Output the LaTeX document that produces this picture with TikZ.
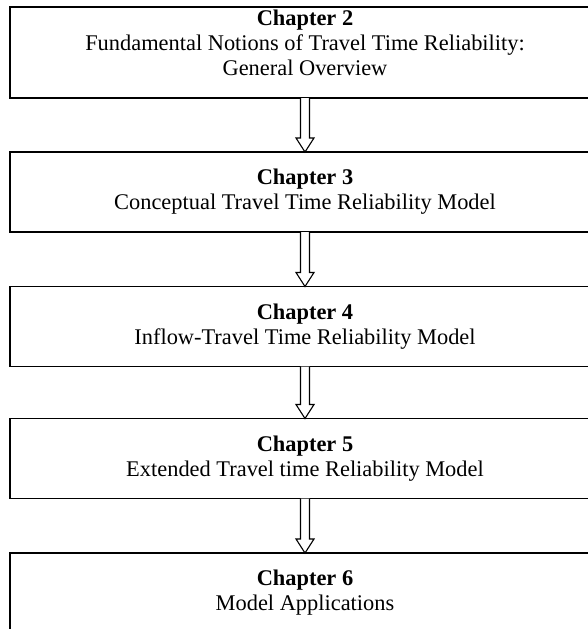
\documentclass[tikz,border=0pt]{standalone}
\usepackage{fontspec}
\setmainfont{Liberation Serif}
\usetikzlibrary{calc}
\begin{document}
\begin{tikzpicture}[x=1pt,y=1pt,
  chapterbox/.style={draw, line width=1.4pt, minimum width=590pt, minimum height=80pt,
    align=center, inner sep=0pt, outer sep=0pt, font=\fontsize{22.4}{25}\selectfont},
  chaptertext/.style={align=center, inner sep=0pt, font=\fontsize{22.4}{25}\selectfont},
  flowarrow/.style={draw, line width=1.1pt, fill=white, line join=miter}]
% page area; the boxes run past its right and bottom edges
\clip (0,0) rectangle (588,-629);

% chapter boxes
\node[chapterbox, minimum height=91pt] (c2) at (305,-52.5) {};
\node[chaptertext] (c2text) at ($(c2.center)+(0,10)$)
  {\textbf{Chapter 2}\\Fundamental Notions of Travel Time Reliability:\\General Overview};
\node[chapterbox] (c3) at (305,-192)
  {\textbf{Chapter 3}\\Conceptual Travel Time Reliability Model};
\node[chapterbox] (c4) at (305,-326.5)
  {\textbf{Chapter 4}\\Inflow-Travel Time Reliability Model};
\node[chapterbox] (c5) at (305,-458.5)
  {\textbf{Chapter 5}\\Extended Travel time Reliability Model};
\node[chapterbox] (c6) at (305,-593)
  {\textbf{Chapter 6}\\Model Applications};

% hollow block arrows between consecutive chapters
\foreach \a/\b in {c2/c3, c3/c4, c4/c5, c5/c6} {
  \draw[flowarrow]
    ($(\a.south)+(-4.5,0)$) -- ($(\b.north)+(-4.5,14)$) -- ($(\b.north)+(-9,14)$)
    -- (\b.north) -- ($(\b.north)+(9,14)$) -- ($(\b.north)+(4.5,14)$)
    -- ($(\a.south)+(4.5,0)$);
}
\end{tikzpicture}
\end{document}
